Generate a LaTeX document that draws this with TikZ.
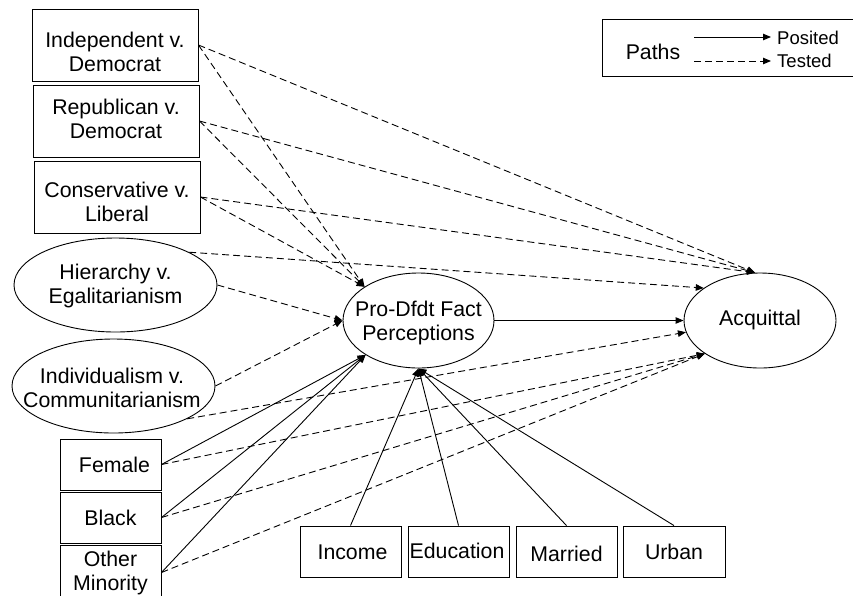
\documentclass[tikz,border=0pt]{standalone}
\usepackage{fontspec}
\setmainfont{Liberation Sans}
\usetikzlibrary{shapes.geometric,arrows.meta}
\begin{document}
\begin{tikzpicture}[x=1pt,y=-1pt,
  every node/.style={font=\fontsize{21.3}{24}\selectfont, align=center, inner sep=0pt},
  box/.style={draw, line width=0.9pt, rectangle},
  ell/.style={draw, line width=0.9pt, ellipse},
  tested/.style={draw, line width=0.9pt, dash pattern=on 7pt off 4pt, -{Triangle[length=8pt,width=6.5pt]}},
  posited/.style={draw, line width=0.9pt, -{Triangle[length=8pt,width=6.5pt]}},
  legtxt/.style={font=\fontsize{18.5}{22}\selectfont, anchor=base west}
]
\useasboundingbox (0,0) rectangle (853,595);
\clip (0,0) rectangle (853,595);

% left boxes
\node[box, minimum width=166pt, minimum height=72pt] (ind) at (115,45) {};
\node (indt) at (115,51.5) {Independent v.\\Democrat};
\node[box, minimum width=166pt, minimum height=72pt] (rep) at (116,121) {};
\node (rept) at (116,119) {Republican v.\\Democrat};
\node[box, minimum width=166pt, minimum height=72pt] (con) at (117,197) {};
\node (cont) at (117,202) {Conservative v.\\Liberal};
\node[ell, minimum width=203pt, minimum height=94pt] (hier) at (115.5,285) {};
\node (hiert) at (115.5,285.5) {Hierarchy v.\\Egalitarianism};
\node[ell, minimum width=203pt, minimum height=94pt] (indiv) at (113.5,386) {};
\node (indivt) at (112,387.5) {Individualism v.\\Communitarianism};
\node[box, minimum width=101pt, minimum height=51pt] (fem) at (110.5,464.5) {};
\node (femt) at (114.5,465) {Female};
\node[box, minimum width=101pt, minimum height=51pt] (blk) at (110.5,517.5) {Black};
\node[box, minimum width=101pt, minimum height=55pt] (oth) at (110.5,572.5) {Other\\Minority};

% bottom boxes
\node[box, minimum width=101pt, minimum height=51pt] (inc) at (350.5,551.5) {};
\node (inct) at (352.5,552.5) {Income};
\node[box, minimum width=101pt, minimum height=51pt] (edu) at (458.5,551.5) {};
\node (edut) at (457,551) {Education};
\node[box, minimum width=101pt, minimum height=51pt] (mar) at (566.5,551.5) {};
\node (mart) at (566.5,554) {Married};
\node[box, minimum width=102pt, minimum height=51pt] (urb) at (674,551.5) {Urban};

% central ellipses
\node[ell, minimum width=151pt, minimum height=95pt] (pro) at (418.5,320.5) {};
\node (prot) at (418.5,323) {Pro-Dfdt Fact\\Perceptions};
\node[ell, minimum width=152pt, minimum height=95pt] (acq) at (760,320.5) {};
\node (acqt) at (760,320) {Acquittal};

% legend
\node[box, minimum width=252pt, minimum height=57pt] (leg) at (728,48) {};
\node (paths) at (653,52) {Paths};
\coordinate (ps) at (694,37);
\coordinate (pe) at (771,37);
\coordinate (ts) at (694,61);
\coordinate (te) at (771,61);
\node[legtxt] (pos) at (777,44) {Posited};
\node[legtxt] (tes) at (777,67) {Tested};
\draw[posited] (ps) -- (pe);
\draw[tested] (ts) -- (te);

% tested paths to Pro-Dfdt
\draw[tested] (ind.east) -- (pro.148);
\draw[tested] (rep.east) -- (pro.148);
\draw[tested] (con.east) -- (pro.148);
\draw[tested] (hier.east) -- (pro.180);
\draw[tested] (indiv.east) -- (pro.180);

% tested paths to Acquittal
\draw[tested] (ind.east) -- (acq.96);
\draw[tested] (rep.east) -- (acq.96);
\draw[tested] (con.east) -- (acq.96);
\draw[tested] (hier.24) -- (acq.150);
\draw[tested] (indiv.-24) -- (acq.189);
\draw[tested] (fem.east) -- (acq.211);
\draw[tested] (blk.east) -- (acq.211);
\draw[tested] (oth.east) -- (acq.211);

% posited paths
\draw[posited] (fem.east) -- (pro.213);
\draw[posited] (blk.east) -- (pro.213);
\draw[posited] (oth.east) -- (pro.213);
\draw[posited] (inc.north) -- (pro.270);
\draw[posited] (edu.north) -- (pro.270);
\draw[posited] (mar.north) -- (pro.270);
\draw[posited] (urb.north) -- (pro.270);
\draw[posited] (pro.east) -- (acq.west);
\end{tikzpicture}
\end{document}
